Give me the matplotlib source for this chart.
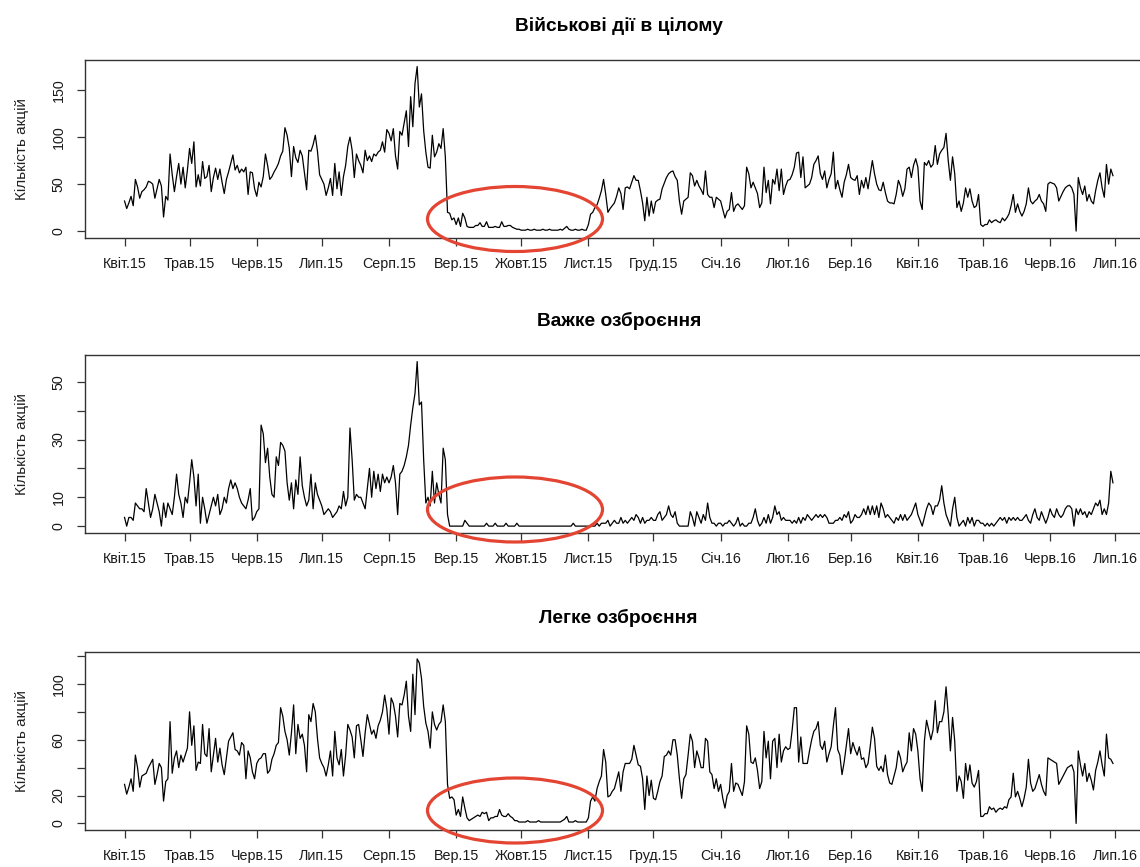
import numpy as np
import pandas as pd
import matplotlib
matplotlib.use('Agg')
import matplotlib.pyplot as plt
import matplotlib.dates as mdates
from matplotlib.patches import Ellipse

plt.rcParams['font.family'] = ['Liberation Sans', 'DejaVu Sans']

start_date = '2015-04-01'

# daily counts, one line per month (Apr 2015 .. Jun 2016)
total = [
    32, 24, 30, 37, 27, 55, 47, 35, 42, 44, 47, 53, 52, 50, 35, 45, 55, 48, 15, 37, 33, 82, 60, 42, 58, 72, 50, 68, 46, 65,
    88, 72, 95, 47, 60, 48, 74, 56, 58, 70, 42, 57, 67, 55, 66, 52, 40, 55, 63, 72, 81, 65, 70, 62, 66, 63, 68, 39, 63, 62, 45,
    37, 52, 47, 58, 82, 70, 55, 58, 63, 67, 72, 80, 85, 110, 102, 88, 58, 90, 78, 73, 86, 80, 62, 44, 86, 85, 92, 102, 85, 60,
    55, 50, 38, 46, 56, 38, 72, 45, 63, 38, 58, 70, 90, 100, 86, 57, 82, 75, 70, 62, 86, 75, 80, 74, 82, 80, 84, 86, 95, 84, 108,
    104, 96, 109, 80, 66, 106, 102, 115, 128, 90, 143, 111, 157, 175, 132, 146, 107, 84, 68, 67, 102, 79, 84, 93, 88, 109, 79, 20, 19, 12, 14,
    7, 14, 5, 19, 14, 5, 4, 4, 4, 6, 6, 9, 5, 5, 10, 4, 4, 4, 5, 4, 4, 10, 5, 5, 6, 6, 4, 3, 2, 2,
    1, 1, 1, 2, 1, 1, 2, 1, 1, 1, 2, 1, 1, 2, 1, 1, 1, 1, 2, 1, 3, 5, 2, 1, 1, 2, 1, 1, 2, 1, 1,
    7, 18, 20, 25, 28, 35, 43, 55, 39, 20, 24, 27, 30, 37, 46, 40, 23, 46, 47, 45, 52, 59, 54, 54, 43, 30, 11, 36, 16, 32,
    19, 31, 33, 34, 45, 51, 57, 61, 63, 64, 58, 54, 32, 18, 32, 34, 36, 62, 59, 48, 54, 48, 44, 39, 64, 39, 36, 36, 25, 36, 34,
    32, 23, 14, 21, 23, 41, 21, 27, 29, 26, 23, 27, 68, 61, 46, 52, 46, 40, 25, 30, 68, 41, 54, 29, 55, 50, 66, 43, 66, 39, 48,
    54, 55, 60, 68, 83, 84, 57, 79, 46, 48, 50, 57, 71, 75, 80, 61, 55, 64, 46, 55, 61, 84, 45, 54, 44, 36, 52, 60, 71,
    57, 55, 54, 59, 39, 54, 46, 57, 45, 60, 75, 61, 50, 44, 43, 52, 41, 32, 30, 30, 29, 39, 54, 48, 37, 45, 66, 68, 57, 70, 77,
    68, 32, 23, 73, 70, 75, 68, 71, 91, 71, 82, 86, 89, 104, 75, 54, 79, 61, 25, 32, 21, 30, 46, 36, 45, 32, 25, 27, 39, 7,
    5, 7, 7, 12, 9, 11, 12, 10, 9, 14, 11, 14, 18, 27, 39, 20, 29, 21, 16, 21, 29, 46, 32, 29, 32, 34, 39, 32, 29, 21, 50,
    52, 51, 50, 46, 32, 37, 42, 46, 48, 49, 46, 39, 0, 57, 46, 39, 48, 32, 39, 32, 29, 43, 54, 62, 46, 36, 71, 50, 66, 59,
]

heavy = [
    3, 0, 3, 3, 2, 8, 7, 6, 6, 5, 13, 8, 3, 6, 11, 8, 5, 0, 8, 3, 8, 6, 4, 10, 18, 11, 8, 3, 10, 8,
    15, 23, 17, 7, 18, 1, 10, 6, 1, 4, 7, 10, 7, 11, 4, 6, 10, 8, 13, 16, 13, 15, 13, 10, 8, 7, 6, 9, 13, 2, 3,
    5, 6, 35, 32, 22, 27, 17, 11, 10, 24, 21, 29, 28, 26, 15, 9, 15, 6, 16, 11, 24, 14, 10, 7, 9, 18, 6, 15, 11, 9,
    7, 4, 5, 6, 5, 3, 4, 5, 7, 6, 12, 7, 10, 34, 23, 9, 11, 10, 10, 8, 6, 13, 20, 10, 19, 13, 18, 12, 18, 15, 17,
    15, 17, 21, 15, 4, 18, 19, 21, 24, 28, 35, 41, 46, 57, 42, 43, 23, 8, 10, 7, 19, 8, 15, 11, 8, 27, 23, 4, 0, 0, 0,
    0, 0, 0, 0, 2, 1, 0, 0, 0, 0, 0, 0, 0, 0, 1, 0, 0, 0, 1, 0, 0, 0, 0, 1, 0, 0, 0, 0, 1, 0,
    0, 0, 0, 0, 0, 0, 0, 0, 0, 0, 0, 0, 0, 0, 0, 0, 0, 0, 0, 0, 0, 0, 0, 0, 1, 0, 0, 0, 0, 0, 0,
    0, 0, 0, 0, 1, 0, 1, 1, 1, 2, 0, 1, 2, 1, 1, 3, 1, 2, 1, 2, 3, 2, 4, 3, 1, 3, 1, 2, 2, 3,
    2, 2, 4, 5, 2, 3, 4, 7, 4, 3, 5, 1, 0, 0, 0, 0, 0, 5, 3, 0, 5, 3, 1, 4, 2, 8, 3, 1, 1, 0, 1,
    1, 0, 1, 1, 2, 1, 0, 1, 3, 0, 1, 0, 0, 1, 1, 3, 6, 2, 0, 1, 3, 1, 4, 1, 3, 7, 4, 5, 2, 3, 2,
    2, 2, 1, 2, 1, 3, 1, 3, 2, 4, 3, 2, 3, 4, 3, 4, 3, 4, 3, 1, 1, 1, 2, 2, 3, 2, 4, 3, 5,
    1, 2, 4, 3, 3, 4, 6, 4, 7, 4, 7, 4, 7, 3, 8, 6, 3, 4, 3, 2, 1, 3, 2, 4, 2, 4, 2, 3, 4, 6, 8,
    4, 2, 0, 3, 6, 8, 7, 4, 7, 7, 9, 14, 8, 4, 2, 0, 6, 10, 3, 0, 1, 2, 0, 3, 1, 3, 0, 2, 2, 1,
    1, 0, 1, 0, 1, 0, 1, 2, 3, 2, 3, 1, 3, 2, 3, 2, 3, 2, 2, 3, 4, 2, 1, 4, 6, 3, 2, 5, 3, 1, 3,
    6, 4, 3, 6, 4, 3, 4, 6, 7, 7, 6, 0, 6, 4, 6, 4, 5, 3, 5, 4, 6, 8, 7, 9, 4, 6, 4, 8, 19, 15,
]

light = [
    28, 21, 26, 32, 23, 49, 40, 26, 34, 35, 36, 40, 43, 46, 28, 35, 43, 40, 16, 30, 32, 73, 36, 47, 52, 40, 49, 44, 49, 54,
    80, 56, 70, 38, 44, 43, 71, 50, 48, 68, 37, 49, 61, 44, 54, 42, 35, 47, 59, 62, 65, 53, 52, 49, 58, 56, 32, 52, 47, 37, 32,
    43, 46, 47, 50, 50, 36, 38, 46, 50, 56, 58, 83, 77, 66, 60, 49, 65, 85, 50, 71, 61, 64, 56, 37, 78, 73, 86, 80, 61, 47,
    43, 40, 34, 42, 52, 34, 66, 47, 42, 53, 34, 49, 71, 67, 62, 47, 70, 71, 60, 48, 65, 78, 71, 64, 67, 61, 70, 74, 80, 92, 82,
    64, 90, 86, 77, 62, 86, 85, 92, 102, 77, 66, 107, 78, 118, 115, 104, 84, 72, 66, 54, 80, 71, 67, 71, 73, 85, 73, 28, 18, 19, 17,
    6, 10, 5, 19, 11, 4, 2, 3, 4, 5, 6, 5, 8, 7, 8, 2, 4, 4, 5, 5, 10, 6, 5, 5, 7, 5, 4, 2, 2, 1,
    1, 1, 1, 2, 1, 1, 1, 1, 2, 1, 1, 1, 1, 1, 1, 1, 1, 1, 1, 2, 3, 5, 1, 1, 1, 2, 1, 1, 1, 1, 1,
    4, 16, 19, 16, 25, 30, 34, 53, 44, 19, 20, 23, 25, 31, 37, 23, 37, 43, 43, 43, 46, 56, 49, 42, 41, 32, 10, 34, 20, 31,
    18, 17, 23, 30, 34, 48, 49, 52, 49, 60, 60, 49, 32, 18, 32, 35, 49, 64, 59, 40, 52, 47, 40, 40, 61, 59, 37, 35, 25, 32, 23,
    28, 18, 11, 20, 23, 43, 23, 29, 28, 24, 20, 30, 70, 64, 44, 43, 47, 38, 25, 30, 66, 47, 59, 32, 59, 61, 40, 64, 44, 52, 55,
    53, 54, 67, 83, 83, 44, 62, 43, 43, 43, 52, 60, 66, 68, 73, 56, 53, 59, 44, 50, 55, 70, 83, 53, 49, 35, 44, 56, 68,
    50, 58, 53, 49, 55, 46, 47, 40, 43, 55, 69, 61, 41, 38, 41, 37, 49, 35, 29, 28, 34, 40, 52, 47, 37, 41, 44, 65, 52, 68, 64,
    52, 32, 23, 59, 74, 67, 60, 67, 88, 65, 73, 73, 80, 98, 78, 52, 76, 59, 23, 34, 30, 18, 43, 31, 42, 29, 26, 30, 38, 5,
    5, 7, 7, 12, 10, 11, 8, 10, 11, 10, 12, 11, 17, 19, 36, 19, 23, 18, 12, 18, 26, 46, 29, 23, 25, 30, 35, 28, 23, 20, 47,
    46, 45, 44, 43, 28, 31, 34, 37, 40, 41, 42, 37, 0, 52, 42, 34, 43, 30, 36, 31, 24, 38, 44, 52, 42, 34, 64, 47, 46, 43,
]

titles = ['Військові дії в цілому', 'Важке озброєння', 'Легке озброєння']
y_label = 'Кількість акцій'
month_labels = ['Квіт.15', 'Трав.15', 'Черв.15', 'Лип.15', 'Серп.15', 'Вер.15',
                'Жовт.15', 'Лист.15', 'Груд.15', 'Січ.16', 'Лют.16', 'Бер.16',
                'Квіт.16', 'Трав.16', 'Черв.16', 'Лип.16']
y_ticks = [[0, 50, 100, 150], [0, 10, 20, 30, 40, 50], [0, 20, 40, 60, 80, 100, 120]]
y_tick_labels = [['0', '50', '100', '150'], ['0', '10', '', '30', '', '50'],
                 ['0', '20', '', '60', '', '100', '']]

W, H = 1140, 867
fig = plt.figure(figsize=(W / 100, H / 100), dpi=100)

# panel boxes in pixels (top, bottom); right edge runs past the image
left_px, right_px = 85, 1152.5
panels_px = [(60, 237.7), (355, 532.7), (652.3, 830)]
# red ellipses highlighting the autumn lull (pixel centre y)
ellipse_y = [219, 509.5, 810.5]

dates = pd.date_range(start_date, periods=len(total), freq='D')
xnum = mdates.date2num(dates)
tick_dates = mdates.date2num(pd.date_range('2015-04-01', periods=len(month_labels), freq='MS'))

box_col = '#333333'
for i, series in enumerate([total, heavy, light]):
    top, bottom = panels_px[i]
    ax = fig.add_axes([left_px / W, 1 - bottom / H, (right_px - left_px) / W, (bottom - top) / H])
    vals = np.array(series, dtype=float)
    ax.plot(xnum, vals, color='black', lw=0.9)

    span = xnum[-1] - xnum[0]
    ax.set_xlim(xnum[0] - 0.04 * span, xnum[-1] + 0.04 * span)
    r = vals.max() - vals.min()
    ax.set_ylim(vals.min() - 0.04 * r, vals.max() + 0.04 * r)

    ax.set_xticks(tick_dates)
    ax.set_xticklabels(month_labels)
    ax.set_yticks(y_ticks[i])
    ax.set_yticklabels(y_tick_labels[i])

    ax.tick_params(axis='both', direction='out', length=6, width=0.9, color=box_col,
                   labelsize=10.3, labelcolor='#1a1a1a')
    ax.tick_params(axis='x', pad=8)
    ax.tick_params(axis='y', pad=8, labelrotation=90)
    for lab in ax.get_yticklabels():
        lab.set_va('center')

    for sp in ax.spines.values():
        sp.set_color(box_col)
        sp.set_linewidth(1.0)

    ax.set_title(titles[i], fontsize=13.8, fontweight='bold', pad=21)
    ax.set_ylabel(y_label, fontsize=11, color='#222222')
    ax.yaxis.set_label_coords(-0.052, 0.5)

    ell = Ellipse((515 / W, 1 - ellipse_y[i] / H), 175 / W, 65 / H, transform=fig.transFigure,
                  fill=False, edgecolor='#e34532', lw=2.3, clip_on=False)
    fig.add_artist(ell)

fig.savefig('out.png', dpi=100)
